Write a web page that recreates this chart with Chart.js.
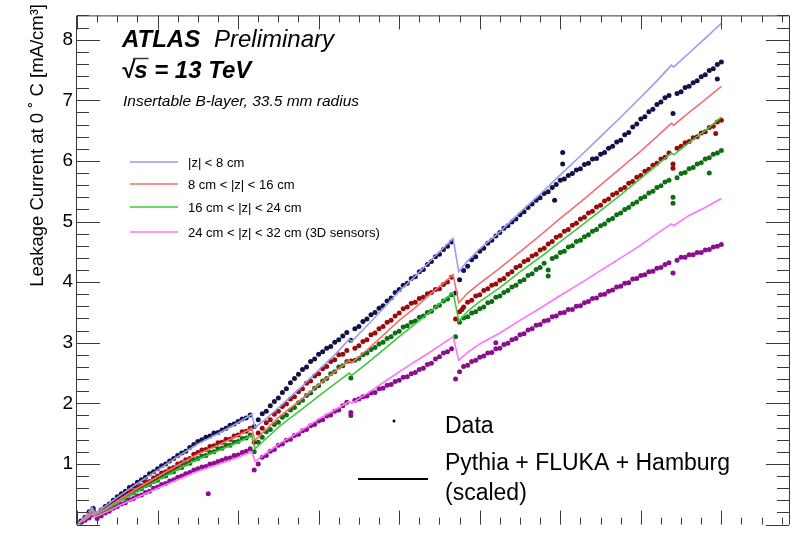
<!DOCTYPE html>
<html>
<head>
<meta charset="utf-8">
<script src="https://cdn.jsdelivr.net/npm/chart.js@4.4.1/dist/chart.umd.min.js"></script>
<style>
  html, body { margin: 0; padding: 0; background: #fff; }
</style>
</head>
<body>
<canvas id="leakChart" width="797" height="540"></canvas>
<script>
// x axis: arbitrary running scale (labels are cut off in the reference)
const modelX = [0, 0.1, 0.19, 0.22, 0.35, 0.5, 0.75, 1.0, 1.25, 1.5, 1.75, 2.0, 2.17, 2.21, 2.35, 2.52,
  2.77, 3.0, 3.2, 3.38, 3.41, 3.6, 3.8, 4.0, 4.2, 4.4, 4.67, 4.74, 4.85, 5.0, 5.25, 5.5, 5.75, 6.0,
  6.25, 6.5, 6.75, 7.0, 7.2, 7.38, 7.41, 7.6, 7.8, 8.0];

// Pythia + FLUKA + Hamburg (scaled)
const modelInner = [0, 0.13, 0.28, 0.19, 0.30, 0.45, 0.68, 0.90, 1.12, 1.33, 1.50, 1.68, 1.82, 1.60, 1.75, 1.95,
  2.25, 2.55, 2.80, 3.06, 3.02, 3.28, 3.56, 3.85, 4.10, 4.37, 4.72, 4.17, 4.35, 4.55, 4.83, 5.15, 5.45, 5.77,
  6.08, 6.40, 6.72, 7.05, 7.32, 7.58, 7.55, 7.78, 8.02, 8.27];
const modelMid = [0, 0.11, 0.25, 0.17, 0.26, 0.39, 0.60, 0.79, 0.98, 1.16, 1.31, 1.47, 1.59, 1.39, 1.57, 1.79,
  2.05, 2.31, 2.52, 2.71, 2.67, 2.88, 3.12, 3.37, 3.58, 3.82, 4.12, 3.66, 3.82, 3.98, 4.23, 4.50, 4.77, 5.05,
  5.32, 5.60, 5.88, 6.16, 6.40, 6.62, 6.59, 6.80, 7.01, 7.23];
const modelOuter = [0, 0.10, 0.23, 0.15, 0.24, 0.36, 0.55, 0.73, 0.91, 1.08, 1.22, 1.36, 1.47, 1.25, 1.42, 1.63,
  1.88, 2.12, 2.32, 2.50, 2.46, 2.66, 2.88, 3.10, 3.31, 3.53, 3.83, 3.36, 3.52, 3.68, 3.91, 4.17, 4.41, 4.67,
  4.92, 5.18, 5.44, 5.71, 5.93, 6.13, 6.10, 6.30, 6.50, 6.72];
const model3D = [0, 0.08, 0.18, 0.12, 0.20, 0.30, 0.45, 0.60, 0.74, 0.88, 0.99, 1.11, 1.20, 1.04, 1.18, 1.34,
  1.54, 1.74, 1.89, 2.03, 2.00, 2.16, 2.34, 2.52, 2.69, 2.86, 3.10, 2.71, 2.84, 2.98, 3.16, 3.37, 3.57, 3.78,
  3.98, 4.19, 4.40, 4.61, 4.80, 4.96, 4.93, 5.10, 5.23, 5.38];

// measured data, one point every 0.05 starting at 0.05
const DATA_START = 0.05;
const DATA_STEP = 0.05;
const dataInner = [
  0.06,0.12,0.21,0.27,0.18,0.24,0.30,0.34,0.40,0.46,
  0.51,0.55,0.61,0.64,0.70,0.74,0.78,0.84,0.87,0.92,
  0.97,1.00,1.05,1.09,1.14,1.18,1.21,1.27,1.32,1.37,
  1.40,1.44,1.46,1.51,1.52,1.56,1.59,1.64,1.66,1.70,
  1.74,1.76,1.81,1.62,1.73,1.83,1.87,1.96,2.03,2.09,
  2.18,2.24,2.34,2.41,2.48,2.56,2.60,2.69,2.73,2.81,
  2.85,2.91,2.94,3.01,3.05,3.11,3.17,3.04,3.23,3.27,
  3.35,3.39,3.46,3.50,3.57,3.61,3.69,3.74,3.83,3.88,
  3.95,3.98,4.06,4.09,4.17,4.21,4.29,4.34,4.42,4.46,
  4.54,4.59,4.66,3.82,4.04,4.19,4.26,4.37,4.42,4.51,
  4.56,4.64,4.69,4.76,4.82,4.89,4.93,4.99,5.04,5.11,
  5.16,5.23,5.29,5.35,5.39,5.46,5.49,5.56,5.61,5.68,
  5.70,5.76,5.79,5.85,5.87,5.94,5.96,6.03,6.04,6.11,
  6.14,6.21,6.24,6.31,6.34,6.43,6.47,6.56,6.61,6.69,
  6.73,6.81,6.85,6.93,6.97,7.04,7.08,6.78,7.11,7.14,
  7.21,7.23,7.29,7.32,7.39,7.42,7.49,7.52,7.59,7.63];
const dataMid = [
  0.05,0.10,0.17,0.24,0.16,0.22,0.26,0.32,0.35,0.41,
  0.46,0.48,0.54,0.56,0.62,0.64,0.70,0.71,0.77,0.80,
  0.85,0.87,0.92,0.94,1.00,1.02,1.07,1.09,1.16,1.19,
  1.23,1.24,1.29,1.30,1.35,1.36,1.41,1.41,1.46,1.48,
  1.53,1.54,1.59,1.36,1.51,1.59,1.68,1.73,1.82,1.87,
  1.95,1.99,2.07,2.11,2.19,2.24,2.33,2.37,2.45,2.49,
  2.57,2.61,2.69,2.72,2.80,2.81,2.87,2.70,2.91,2.95,
  3.02,3.05,3.13,3.16,3.23,3.27,3.34,3.37,3.44,3.49,
  3.56,3.59,3.65,3.67,3.73,3.75,3.81,3.83,3.88,3.89,
  3.96,4.00,4.08,3.39,3.51,3.59,3.67,3.70,3.77,3.79,
  3.86,3.89,3.95,3.97,4.03,4.06,4.13,4.17,4.24,4.27,
  4.34,4.37,4.43,4.46,4.53,4.56,4.63,4.67,4.74,4.77,
  4.84,4.87,4.94,4.97,5.04,5.07,5.14,5.17,5.24,5.27,
  5.34,5.37,5.44,5.47,5.53,5.56,5.63,5.66,5.73,5.76,
  5.83,5.86,5.93,5.96,6.03,6.06,6.13,5.88,6.21,6.24,
  6.30,6.32,6.38,6.40,6.46,6.48,6.55,6.57,6.64,6.67];
const dataOuter = [
  0.04,0.09,0.15,0.22,0.14,0.20,0.23,0.29,0.32,0.38,
  0.43,0.44,0.50,0.52,0.57,0.59,0.64,0.66,0.71,0.73,
  0.79,0.80,0.86,0.87,0.93,0.94,1.00,1.01,1.07,1.09,
  1.13,1.14,1.19,1.20,1.25,1.26,1.31,1.31,1.36,1.37,
  1.42,1.43,1.48,1.20,1.36,1.44,1.53,1.57,1.65,1.69,
  1.77,1.81,1.89,1.93,2.01,2.05,2.13,2.17,2.25,2.29,
  2.37,2.41,2.49,2.52,2.60,2.62,2.69,2.42,2.71,2.74,
  2.80,2.83,2.89,2.92,2.98,3.01,3.07,3.10,3.16,3.19,
  3.26,3.28,3.34,3.36,3.42,3.44,3.50,3.52,3.59,3.62,
  3.69,3.72,3.79,3.10,3.34,3.41,3.43,3.49,3.51,3.56,
  3.59,3.66,3.68,3.75,3.77,3.83,3.86,3.92,3.95,4.01,
  4.04,4.11,4.14,4.21,4.24,4.31,4.10,4.39,4.42,4.49,
  4.51,4.58,4.60,4.67,4.69,4.75,4.78,4.84,4.87,4.93,
  4.96,5.02,5.05,5.11,5.14,5.20,5.23,5.29,5.32,5.38,
  5.41,5.47,5.50,5.56,5.59,5.65,5.68,5.30,5.72,5.79,
  5.81,5.87,5.89,5.95,5.97,6.03,6.05,6.11,6.13,6.17];
const data3D = [
  0.03,0.07,0.11,0.16,0.10,0.14,0.19,0.22,0.27,0.30,
  0.34,0.36,0.41,0.43,0.47,0.49,0.53,0.55,0.60,0.62,
  0.66,0.68,0.72,0.74,0.78,0.80,0.84,0.86,0.90,0.92,
  0.95,0.96,1.00,1.01,1.04,1.06,1.09,1.10,1.14,1.15,
  1.19,1.21,1.25,0.90,1.00,1.11,1.14,1.21,1.24,1.31,
  1.33,1.39,1.41,1.47,1.49,1.55,1.57,1.63,1.65,1.71,
  1.73,1.79,1.81,1.87,1.89,1.96,2.02,1.85,2.05,2.07,
  2.11,2.12,2.17,2.18,2.24,2.25,2.30,2.31,2.36,2.38,
  2.43,2.44,2.49,2.51,2.56,2.58,2.64,2.66,2.73,2.77,
  2.83,2.85,2.90,2.40,2.52,2.61,2.63,2.69,2.71,2.76,
  2.78,2.83,2.84,2.90,2.91,2.97,2.99,3.05,3.07,3.13,
  3.15,3.21,3.23,3.29,3.30,3.36,3.37,3.43,3.44,3.49,
  3.50,3.55,3.55,3.60,3.61,3.66,3.68,3.73,3.74,3.79,
  3.80,3.85,3.87,3.92,3.93,3.98,3.99,4.05,4.06,4.11,
  4.12,4.17,4.18,4.23,4.24,4.29,4.32,4.15,4.36,4.41,
  4.41,4.45,4.45,4.49,4.49,4.53,4.54,4.58,4.59,4.62];

// a few stray readings seen off the main bands
const outliersInner = [{ x: 6.03, y: 6.14 }, { x: 6.03, y: 5.95 }, { x: 5.93, y: 5.35 }, { x: 7.95, y: 7.35 }];
const outliersMid = [{ x: 4.78, y: 3.55 }, { x: 7.93, y: 6.45 }, { x: 7.4, y: 5.95 }];
const outliersOuter = [{ x: 5.85, y: 4.2 }, { x: 7.4, y: 5.4 }, { x: 7.85, y: 5.8 }];
const outliers3D = [{ x: 1.63, y: 0.51 }, { x: 3.4, y: 1.8 }, { x: 5.2, y: 3.0 }];

const legendLabels = ["|z| < 8 cm", "8 cm < |z| < 16 cm", "16 cm < |z| < 24 cm", "24 cm < |z| < 32 cm (3D sensors)"];
const lineColors = ["#9b9bf4", "#f2706e", "#3dc83d", "#ff72ff"];
const dotColors = ["#121248", "#9a0c0c", "#0e6e12", "#8c0e90"];

const FONT = "'Liberation Sans', Arial, Helvetica, sans-serif";

const modelSets = [modelInner, modelMid, modelOuter, model3D].map((vals, i) => ({
  label: legendLabels[i],
  data: modelX.map((x, k) => ({ x, y: vals[k] })),
  showLine: true,
  borderColor: lineColors[i],
  borderWidth: 1.6,
  pointRadius: 0,
  tension: 0,
}));
const outliers = [outliersInner, outliersMid, outliersOuter, outliers3D];
const dataSets = [dataInner, dataMid, dataOuter, data3D].map((vals, i) => ({
  label: "Data " + legendLabels[i],
  data: vals.map((y, k) => ({ x: DATA_START + k * DATA_STEP, y })).concat(outliers[i]),
  showLine: false,
  pointRadius: 2.5,
  pointBorderWidth: 0,
  backgroundColor: dotColors[i],
  borderColor: dotColors[i],
}));

const rootFrame = {
  id: "rootFrame",
  afterDraw(chart) {
    const { ctx, chartArea: a, scales: { x, y } } = chart;
    ctx.save();
    ctx.strokeStyle = "#3a3a3a";
    ctx.lineWidth = 1;
    ctx.beginPath();
    ctx.moveTo(a.left - 0.5, a.bottom);
    ctx.lineTo(a.left - 0.5, a.top + 0.5);
    ctx.lineTo(a.right + 0.5, a.top + 0.5);
    ctx.lineTo(a.right + 0.5, a.bottom);
    // y ticks every 0.2, long ones on integers
    for (let i = 0; i <= 42; i++) {
      const py = Math.round(y.getPixelForValue(i * 0.2)) + 0.5;
      const len = i % 5 === 0 ? 23 : 12;
      ctx.moveTo(a.left, py); ctx.lineTo(a.left + len, py);
      ctx.moveTo(a.right, py); ctx.lineTo(a.right - len, py);
    }
    // x ticks every 0.25, long ones on integers
    for (let i = 0; i <= 35; i++) {
      const px = Math.round(x.getPixelForValue(i * 0.25)) + 0.5;
      const len = i % 4 === 0 ? 14 : 7;
      ctx.moveTo(px, a.top); ctx.lineTo(px, a.top + len);
      ctx.moveTo(px, a.bottom); ctx.lineTo(px, a.bottom - len);
    }
    ctx.stroke();

    // y axis title, right-aligned to the top of the axis
    ctx.fillStyle = "#000";
    ctx.save();
    ctx.translate(43, 4);
    ctx.rotate(-Math.PI / 2);
    ctx.font = "18.5px " + FONT;
    ctx.textAlign = "right";
    ctx.textBaseline = "alphabetic";
    ctx.fillText("Leakage Current at 0 \u02DA C [mA/cm\u00B3]", 0, 0);
    ctx.restore();

    // ATLAS label
    ctx.textAlign = "left";
    ctx.textBaseline = "alphabetic";
    ctx.font = "italic bold 24px " + FONT;
    ctx.fillText("ATLAS", 122, 47);
    ctx.font = "italic 24px " + FONT;
    ctx.fillText("Preliminary", 214, 47);

    ctx.font = "italic bold 24px " + FONT;
    ctx.fillText("\u221As = 13 TeV", 121, 78);
    const wR = ctx.measureText("\u221A").width;
    const wS = ctx.measureText("s").width;
    ctx.beginPath();
    ctx.lineWidth = 1.5;
    ctx.moveTo(121 + wR - 1, 58.5);
    ctx.lineTo(121 + wR + wS + 1, 58.5);
    ctx.stroke();

    ctx.font = "italic 15.5px " + FONT;
    ctx.fillText("Insertable B-layer, 33.5 mm radius", 123, 106);

    // model legend
    ctx.font = "13px " + FONT;
    ctx.textBaseline = "middle";
    const rows = [162, 184, 207, 232];
    rows.forEach((ry, i) => {
      ctx.strokeStyle = lineColors[i];
      ctx.lineWidth = 1.7;
      ctx.beginPath();
      ctx.moveTo(130, ry); ctx.lineTo(178, ry);
      ctx.stroke();
      ctx.fillText(legendLabels[i], 188, ry + 1);
    });

    // data / simulation legend
    ctx.beginPath();
    ctx.arc(394, 421, 1.5, 0, Math.PI * 2);
    ctx.fill();
    ctx.strokeStyle = "#000";
    ctx.lineWidth = 2;
    ctx.beginPath();
    ctx.moveTo(358, 479); ctx.lineTo(428, 479);
    ctx.stroke();
    ctx.textBaseline = "alphabetic";
    ctx.font = "23px " + FONT;
    ctx.fillText("Data", 445, 433);
    ctx.fillText("Pythia + FLUKA + Hamburg", 445, 470);
    ctx.fillText("(scaled)", 445, 500);
    ctx.restore();
  },
};

new Chart(document.getElementById("leakChart"), {
  type: "scatter",
  data: { datasets: [...modelSets, ...dataSets] },
  options: {
    responsive: false,
    animation: false,
    layout: { padding: { top: 6, right: 8, bottom: 0, left: 0 } },
    plugins: { legend: { display: false }, tooltip: { enabled: false } },
    scales: {
      x: { type: "linear", min: 0, max: 8.84, display: false },
      y: {
        type: "linear",
        min: 0,
        max: 8.4,
        grid: { display: false, drawTicks: false },
        border: { display: false },
        afterFit(scale) { scale.width = 77; },
        ticks: {
          stepSize: 1,
          autoSkip: false,
          padding: 4,
          color: "#000",
          font: { family: FONT, size: 19 },
          callback: v => (Number.isInteger(v) && v > 0 ? String(v) : ""),
        },
      },
    },
  },
  plugins: [rootFrame],
});
</script>
</body>
</html>
